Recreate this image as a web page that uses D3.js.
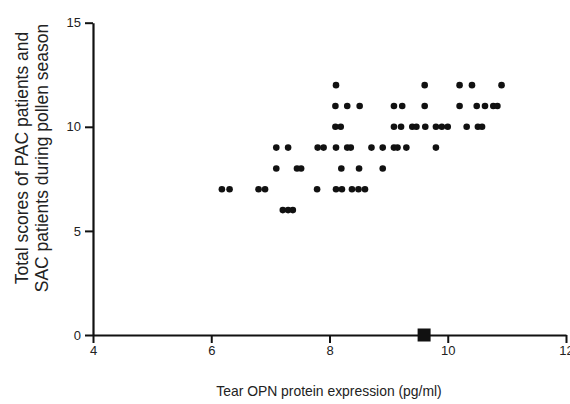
<!DOCTYPE html>
<html>
<head>
<meta charset="utf-8">
<script src="https://cdn.jsdelivr.net/npm/d3@7"></script>
<style>
  html, body { margin: 0; padding: 0; background: #fff; }
  svg text { font-family: "Liberation Sans", Arial, Helvetica, sans-serif; fill: #222; }
</style>
</head>
<body>
<svg id="chart" width="570" height="404"></svg>
<script>
// Data: each row of points shares one score value
const score12 = [8.11, 9.61, 10.20, 10.41, 10.91];
const score11 = [8.10, 8.30, 8.51, 9.09, 9.23, 9.61, 10.20, 10.49, 10.63, 10.77, 10.84];
const score10 = [8.10, 8.19, 9.09, 9.21, 9.40, 9.47, 9.62, 9.80, 9.90, 10.00, 10.32, 10.51, 10.58];
const score9  = [7.10, 7.30, 7.80, 7.90, 8.11, 8.30, 8.36, 8.71, 8.90, 9.09, 9.15, 9.30, 9.80];
const score8  = [7.10, 7.45, 7.52, 8.20, 8.50, 8.90];
const score7  = [6.18, 6.31, 6.80, 6.91, 7.79, 8.11, 8.21, 8.38, 8.49, 8.60];
const score6  = [7.21, 7.30, 7.38];
const scoreValues = [12, 11, 10, 9, 8, 7, 6];
const meanMarker = [{ x: 9.6, y: 0 }];

const xTicks = [4, 6, 8, 10, 12];
const yTicks = [0, 5, 10, 15];
const xTitle = "Tear OPN protein expression (pg/ml)";
const yTitleLines = ["Total scores of PAC patients and", "SAC patients during pollen season"];

const rows = [score12, score11, score10, score9, score8, score7, score6];
const points = [];
rows.forEach((arr, i) => arr.forEach(v => points.push({ x: v, y: scoreValues[i] })));

const svg = d3.select("#chart");
const x = d3.scaleLinear().domain([4, 12]).range([93, 566]);
const y = d3.scaleLinear().domain([0, 15]).range([335, 22.7]);

const axisColor = "#111";

// X axis
const gx = svg.append("g").attr("transform", `translate(0,${y(0)})`)
  .call(d3.axisBottom(x).tickValues(xTicks).tickFormat(d3.format("d")).tickSize(8).tickPadding(3).tickSizeOuter(0));
gx.select(".domain").attr("stroke", axisColor).attr("stroke-width", 2.2);
gx.selectAll(".tick line").attr("stroke", axisColor).attr("stroke-width", 2);
gx.selectAll(".tick text").attr("font-size", 13).style("font-family", '"Liberation Sans", Arial, sans-serif').attr("fill", "#222");

// Y axis
const gy = svg.append("g").attr("transform", `translate(${x(4)},0)`)
  .call(d3.axisLeft(y).tickValues(yTicks).tickFormat(d3.format("d")).tickSize(8).tickPadding(4).tickSizeOuter(0));
gy.select(".domain").attr("stroke", axisColor).attr("stroke-width", 2.2);
gy.selectAll(".tick line").attr("stroke", axisColor).attr("stroke-width", 2);
gy.selectAll(".tick text").attr("font-size", 13).style("font-family", '"Liberation Sans", Arial, sans-serif').attr("fill", "#222");

// Points
svg.append("g").selectAll("circle").data(points).join("circle")
  .attr("cx", d => x(d.x)).attr("cy", d => y(d.y)).attr("r", 3.3).attr("fill", "#111");

// Square marker
const sq = 13;
svg.append("g").selectAll("rect").data(meanMarker).join("rect")
  .attr("x", d => x(d.x) - sq / 2).attr("y", d => y(d.y) - sq / 2)
  .attr("width", sq).attr("height", sq).attr("fill", "#111");

// Axis titles
svg.append("text").attr("x", 329).attr("y", 396).attr("text-anchor", "middle")
  .attr("font-size", 13.9).text(xTitle);

const yt = svg.append("text").attr("transform", "translate(0,158) rotate(-90)").attr("text-anchor", "middle")
  .attr("font-size", 17.5);
yTitleLines.forEach((l, i) => yt.append("tspan").attr("x", 0).attr("y", 28 + i * 20).text(l));
</script>
</body>
</html>
